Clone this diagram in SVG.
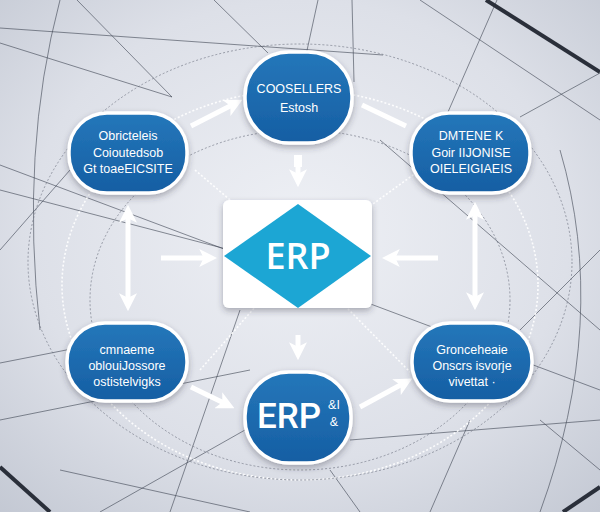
<svg xmlns="http://www.w3.org/2000/svg" width="600" height="512" viewBox="0 0 600 512">
<defs>
<radialGradient id="bg" cx="0.5" cy="0.45" r="0.75">
<stop offset="0" stop-color="#eef0f5"/>
<stop offset="0.6" stop-color="#dde0e8"/>
<stop offset="1" stop-color="#c3c8d3"/>
</radialGradient>
<linearGradient id="blue" x1="0" y1="0" x2="0" y2="1">
<stop offset="0" stop-color="#2577ba"/>
<stop offset="1" stop-color="#155ea3"/>
</linearGradient>
<filter id="sh" x="-20%" y="-20%" width="140%" height="150%">
<feDropShadow dx="0" dy="3" stdDeviation="3" flood-color="#334" flood-opacity="0.35"/>
</filter>
<marker id="ah" viewBox="0 0 10 10" refX="6" refY="5" markerWidth="3.6" markerHeight="3.6" orient="auto-start-reverse">
<path d="M0,0 L10,5 L0,10 L2.5,5 Z" fill="#ffffff"/>
</marker>
</defs>
<style>
.node{fill:url(#blue);stroke:#ffffff;stroke-width:3.5;filter:url(#sh)}
.t{font-family:"Liberation Sans",Arial,sans-serif;font-size:12.5px;fill:#ffffff;text-anchor:middle}
.big{font-family:"Open Sans","Liberation Sans",Arial,sans-serif;font-weight:600;fill:#ffffff;text-anchor:middle}
.bgl{stroke:#3d4350;stroke-width:0.8;fill:none;opacity:0.75}
.thick{stroke:#2a2f3a;stroke-width:4;fill:none}
.dash{fill:none;stroke:#ffffff;stroke-width:1.6;stroke-dasharray:2 2;opacity:0.9}
.dash2{fill:none;stroke:#6c7280;stroke-width:0.8;stroke-dasharray:2 2;opacity:0.8}
.arr{stroke:#ffffff;stroke-width:5;fill:none;marker-end:url(#ah)}
.arr2{stroke:#ffffff;stroke-width:5;fill:none;marker-end:url(#ah);marker-start:url(#ah)}
</style>
<rect width="600" height="512" fill="url(#bg)"/>
<g id="background-lines">
<path class="bgl" d="M0,28 L383,55"/>
<path class="bgl" d="M77,0 L172,97"/>
<path class="bgl" d="M0,43 L172,97"/>
<path class="bgl" d="M214,0 L268,53"/>
<path class="bgl" d="M318,0 L306,55"/>
<path class="bgl" d="M352,0 L354,82"/>
<path class="bgl" d="M497,0 L448,112"/>
<path class="bgl" d="M600,73 L520,117"/>
<path class="bgl" d="M420,0 L600,120"/>
<path class="bgl" d="M0,165 L600,390"/>
<path class="bgl" d="M0,190 L230,250"/>
<path class="bgl" d="M60,0 Q20,150 40,330"/>
<path class="bgl" d="M0,250 L70,170"/>
<path class="bgl" d="M380,140 L600,330"/>
<path class="bgl" d="M0,363 L153,333"/>
<path class="bgl" d="M0,420 L250,370"/>
<path class="bgl" d="M100,512 L245,430"/>
<path class="bgl" d="M60,470 L250,512"/>
<path class="bgl" d="M350,440 L600,420"/>
<path class="bgl" d="M520,330 L600,250"/>
<path class="bgl" d="M430,512 L470,420"/>
<path class="bgl" d="M540,420 L600,470"/>
<path class="bgl" d="M330,470 L360,512"/>
<path class="bgl" d="M560,150 Q610,320 540,512"/>
<path class="bgl" d="M240,310 L170,512"/>
<path class="thick" d="M486,0 L600,72"/>
<path class="thick" d="M0,467 L50,512"/>
<path class="thick" d="M563,512 L600,487"/>
</g>
<g id="rings">
<ellipse class="dash" cx="300" cy="285" rx="238" ry="195"/>
<ellipse class="dash2" cx="300" cy="262" rx="272" ry="218"/>
<ellipse class="dash2" cx="300" cy="300" rx="210" ry="170"/>
<path class="dash" d="M195,170 L298,258 L420,170"/>
<path class="dash" d="M200,370 L298,258 L410,372"/>
</g>
<g id="connectors">
<path class="arr" d="M191,126 L236,103"/>
<path d="M362,105 L406,126" stroke="#ffffff" stroke-width="5"/>
<rect x="294" y="155" width="8" height="12" fill="#ffffff"/>
<path class="arr" d="M298,166 L298,180"/>
<path class="arr2" d="M128,212 L128,304"/>
<path class="arr2" d="M475,209 L475,303"/>
<path class="arr" d="M161,258 L210,258"/>
<path class="arr" d="M438,258 L389,258"/>
<path class="arr" d="M298,335 L298,353"/>
<path class="arr" d="M191,387 L228,405"/>
<path class="arr" d="M360,407 L406,382"/>
</g>
<g id="center">
<rect x="223" y="200" width="149" height="108" rx="6" fill="#ffffff" filter="url(#sh)"/>
<path d="M298,204 L371,256 L298,308 L224,256 Z" fill="#1ca6d4"/>
<text class="big" x="298" y="269" font-size="36">ERP</text>
</g>
<g id="node-top">
<rect class="node" x="245" y="52" width="107" height="91" rx="44"/>
<text class="t" x="299" y="93" font-size="12">COOSELLERS</text>
<text class="t" x="299" y="112">Estosh</text>
</g>
<g id="node-topleft">
<rect class="node" x="69" y="113" width="118" height="80" rx="38"/>
<text class="t" x="128" y="140">Obricteleis</text>
<text class="t" x="128" y="157">Coioutedsob</text>
<text class="t" x="128" y="173">Gt toaeEICSITE</text>
</g>
<g id="node-topright">
<rect class="node" x="411" y="113" width="119" height="80" rx="38"/>
<text class="t" x="471" y="140">DMTENE K</text>
<text class="t" x="471" y="157">Goir IIJONISE</text>
<text class="t" x="471" y="173">OIELEIGIAEIS</text>
</g>
<g id="node-bottomleft">
<rect class="node" x="67" y="323" width="120" height="78" rx="38"/>
<text class="t" x="127" y="354">cmnaeme</text>
<text class="t" x="127" y="370">oblouiJossore</text>
<text class="t" x="127" y="386">ostistelvigks</text>
</g>
<g id="node-bottomright">
<rect class="node" x="412" y="323" width="120" height="78" rx="38"/>
<text class="t" x="472" y="354">Gronceheaie</text>
<text class="t" x="472" y="370">Onscrs isvorje</text>
<text class="t" x="472" y="386">vivettat ·</text>
</g>
<g id="node-bottom">
<rect class="node" x="245" y="372" width="106" height="91" rx="44"/>
<text class="big" x="289" y="428" font-size="35" style="font-family:Roboto,'Liberation Sans',sans-serif;font-weight:500">ERP</text>
<text class="t" x="334" y="409" font-size="10">&amp;I</text>
<text class="t" x="334" y="426" font-size="10">&amp;</text>
</g>
</svg>
